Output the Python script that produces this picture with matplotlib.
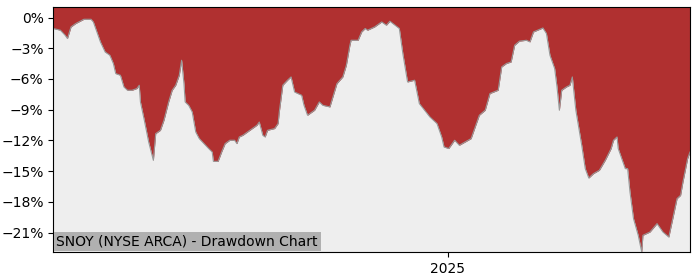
import pandas as pd
import matplotlib
matplotlib.use('Agg')
import matplotlib.pyplot as plt
import matplotlib.dates as mdates
from matplotlib.ticker import FuncFormatter, MultipleLocator

# drawdown of SNOY, percent below running peak
dates = [
    "2024-02-01", "2024-02-07", "2024-02-11", "2024-02-13", "2024-02-16", "2024-02-20",
    "2024-02-27", "2024-03-04", "2024-03-06", "2024-03-09", "2024-03-12", "2024-03-16",
    "2024-03-20", "2024-03-23", "2024-03-25", "2024-03-29", "2024-04-01", "2024-04-04",
    "2024-04-08", "2024-04-12", "2024-04-14", "2024-04-15", "2024-04-18", "2024-04-22",
    "2024-04-26", "2024-04-28", "2024-05-02", "2024-05-05", "2024-05-09", "2024-05-12",
    "2024-05-15", "2024-05-18", "2024-05-20", "2024-05-22", "2024-05-23", "2024-05-26",
    "2024-05-29", "2024-06-01", "2024-06-04", "2024-06-08", "2024-06-12", "2024-06-15",
    "2024-06-16", "2024-06-20", "2024-06-23", "2024-06-26", "2024-06-30", "2024-07-04",
    "2024-07-06", "2024-07-08", "2024-07-11", "2024-07-17", "2024-07-23", "2024-07-25",
    "2024-07-28", "2024-07-30", "2024-08-01", "2024-08-07", "2024-08-10", "2024-08-11",
    "2024-08-14", "2024-08-18", "2024-08-21", "2024-08-24", "2024-08-30", "2024-09-01",
    "2024-09-04", "2024-09-10", "2024-09-14", "2024-09-17", "2024-09-23", "2024-09-26",
    "2024-09-29", "2024-10-04", "2024-10-07", "2024-10-10", "2024-10-11", "2024-10-17",
    "2024-10-20", "2024-10-23", "2024-10-25", "2024-10-31", "2024-11-06", "2024-11-10",
    "2024-11-13", "2024-11-21", "2024-11-24", "2024-11-28", "2024-12-04", "2024-12-08",
    "2024-12-17", "2024-12-23", "2024-12-27", "2024-12-29", "2025-01-02", "2025-01-04",
    "2025-01-07", "2025-01-11", "2025-01-16", "2025-01-21", "2025-01-24", "2025-01-28",
    "2025-02-02", "2025-02-06", "2025-02-13", "2025-02-16", "2025-02-20", "2025-02-24",
    "2025-02-27", "2025-03-03", "2025-03-09", "2025-03-12", "2025-03-15", "2025-03-23",
    "2025-03-26", "2025-03-29", "2025-04-02", "2025-04-04", "2025-04-06", "2025-04-08",
    "2025-04-12", "2025-04-15", "2025-04-17", "2025-04-20", "2025-04-25", "2025-04-28",
    "2025-05-01", "2025-05-05", "2025-05-10", "2025-05-15", "2025-05-20", "2025-05-22",
    "2025-05-25", "2025-05-26", "2025-05-29", "2025-06-01", "2025-06-03", "2025-06-05",
    "2025-06-08", "2025-06-12", "2025-06-15", "2025-06-16", "2025-06-22", "2025-06-28",
    "2025-07-03", "2025-07-08", "2025-07-12", "2025-07-15", "2025-07-18", "2025-07-20",
    "2025-07-24", "2025-07-26",
]
drawdown = [
    -1.07, -1.24, -1.73, -2.05, -0.92, -0.59,
    -0.17, -0.17, -0.43, -1.41, -2.38, -3.36,
    -3.68, -4.49, -5.47, -5.64, -6.78, -7.10,
    -7.10, -6.93, -6.61, -8.24, -9.86, -12.15,
    -13.94, -11.33, -11.01, -10.03, -8.24, -7.10,
    -6.61, -5.64, -4.17, -6.45, -8.24, -8.57,
    -9.22, -11.17, -11.82, -12.31, -12.79, -13.13,
    -14.04, -14.04, -13.13, -12.31, -11.98, -11.98,
    -12.31, -11.66, -11.50, -11.01, -10.52, -10.20,
    -11.50, -11.66, -11.01, -10.84, -10.35, -9.22,
    -6.61, -6.12, -5.80, -7.27, -7.59, -8.57,
    -9.54, -9.05, -8.24, -8.57, -8.73, -7.59,
    -6.45, -5.80, -4.66, -2.71, -2.22, -2.22,
    -1.41, -1.07, -1.24, -0.92, -0.43, -0.75,
    -0.36, -1.07, -3.52, -6.29, -6.12, -8.40,
    -9.71, -10.35, -11.66, -12.64, -12.79, -12.47,
    -11.98, -12.47, -12.15, -11.82, -10.84, -9.54,
    -9.05, -7.42, -7.10, -4.82, -4.49, -4.34,
    -2.71, -2.31, -2.22, -2.38, -1.41, -1.02,
    -1.56, -3.68, -4.98, -6.78, -9.05, -7.10,
    -6.78, -6.61, -5.80, -9.05, -12.47, -14.75,
    -15.67, -15.24, -14.91, -13.94, -12.79, -11.98,
    -11.66, -12.79, -13.77, -14.75, -14.75, -17.03,
    -19.63, -21.26, -22.89, -21.26, -20.94, -20.12,
    -20.94, -21.43, -19.31, -17.68, -17.36, -16.06,
    -13.77, -13.13,
]
title = "SNOY (NYSE ARCA) - Drawdown Chart"

x = pd.to_datetime(dates)

bg = "#eeeeee"
red = "#b03030"

fig = plt.figure(figsize=(7, 2.8), dpi=100)
ax = fig.add_axes([0.0762, 0.1, 0.9095, 0.874])
ax.set_facecolor(bg)

top = 1.0
ax.fill_between(x, drawdown, top, color=red, linewidth=0)
ax.plot(x, drawdown, color="#999999", linewidth=0.8)

ax.set_xlim(x[0], x[-1])
ax.set_ylim(min(drawdown), top)

ax.yaxis.set_major_locator(MultipleLocator(3))
ax.yaxis.set_major_formatter(FuncFormatter(lambda v, p: f"{v:.0f}%".replace("-", "\u2212")))
ax.xaxis.set_major_locator(mdates.YearLocator())
ax.xaxis.set_major_formatter(mdates.DateFormatter("%Y"))
ax.tick_params(labelsize=10)

ax.annotate(title, xy=(0, 0), xycoords="axes fraction", xytext=(2.2, 2.6),
            textcoords="offset points", ha="left", va="bottom", fontsize=10,
            bbox=dict(facecolor="#b0b0b0", edgecolor="none", pad=2))

plt.savefig("out.png", dpi=100)
